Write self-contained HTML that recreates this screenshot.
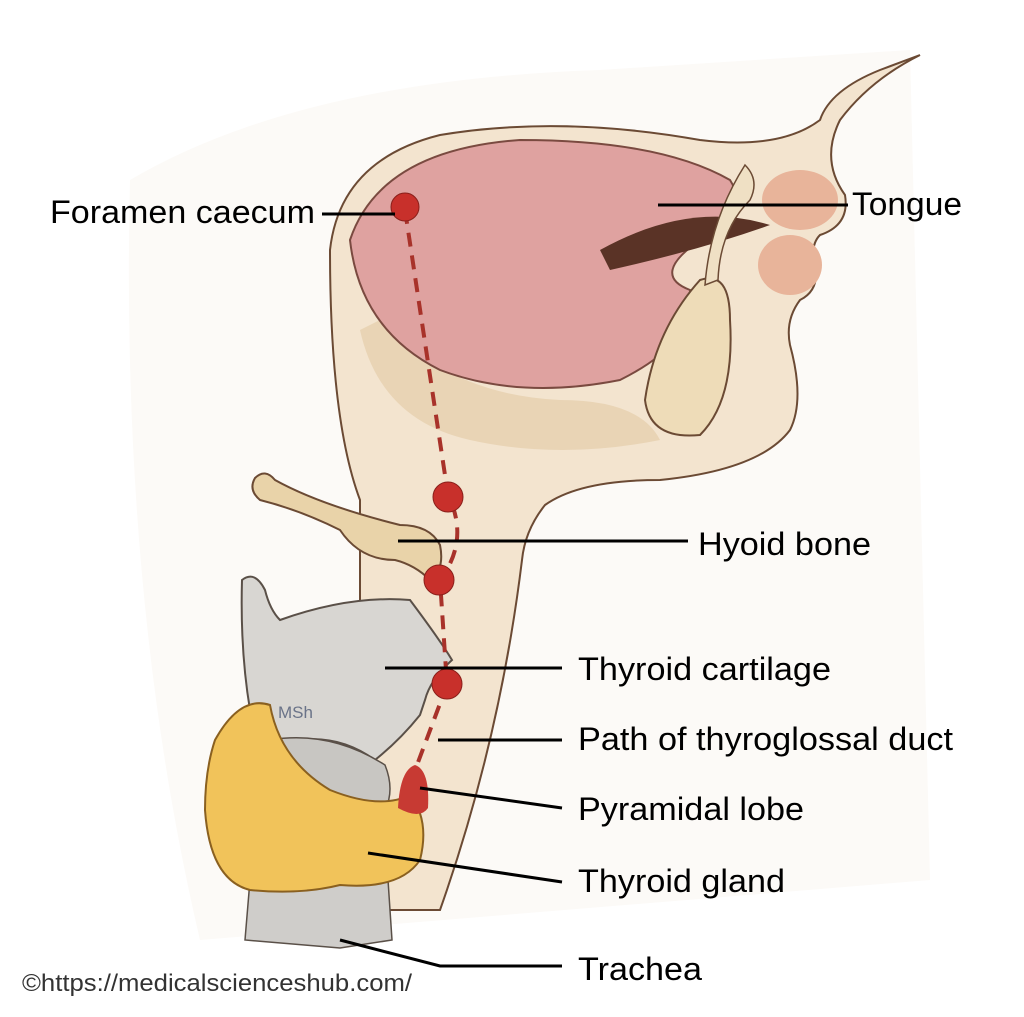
<!DOCTYPE html>
<html><head><meta charset="utf-8"><style>
html,body{margin:0;padding:0;background:#fff}
svg{display:block}
text{font-family:"Liberation Sans",sans-serif}
</style></head><body>
<svg width="1024" height="1017" viewBox="0 0 1024 1017" xmlns="http://www.w3.org/2000/svg">
<rect width="1024" height="1017" fill="#fff"/>
<path d="M130 180 Q300 80 600 70 L910 50 L930 880 L200 940 Q120 600 130 180Z" fill="#fcfaf7"/>
<!-- head/neck silhouette -->
<path d="M330 250 Q340 160 440 135 Q560 115 700 140 Q780 150 820 120 Q830 90 880 70 L920 55 Q870 80 840 120 Q820 160 845 195 Q850 225 820 235 Q810 245 815 265 Q820 290 800 300 Q785 320 790 345 Q805 400 790 430 Q760 470 660 480 Q580 480 545 505 Q525 530 522 560 Q500 740 440 910 L360 910 L360 500 Q330 420 330 250Z" fill="#f3e4cf" stroke="#6b4a34" stroke-width="2"/>
<path d="M360 330 Q380 420 470 440 Q560 460 660 440 Q640 400 560 400 Q450 395 380 320Z" fill="#e6cfae" opacity=".8"/>
<ellipse cx="800" cy="200" rx="38" ry="30" fill="#e8b49a"/>
<ellipse cx="790" cy="265" rx="32" ry="30" fill="#e8b49a"/>
<!-- tongue -->
<path d="M350 240 Q380 150 520 140 Q660 140 730 180 Q750 210 700 240 Q650 275 690 290 Q700 340 620 380 Q520 400 440 370 Q360 330 350 240Z" fill="#dfa2a0" stroke="#7a4a40" stroke-width="2"/>
<path d="M600 250 Q690 200 770 225 Q700 250 610 270Z" fill="#5a3326"/>
<path d="M700 280 Q730 270 730 320 Q735 400 700 435 Q650 440 645 400 Q655 330 700 280Z" fill="#eedcb8" stroke="#6b4a34" stroke-width="2"/>
<path d="M745 165 Q760 180 750 200 Q720 230 718 280 L705 285 Q710 220 745 165Z" fill="#efe0c4" stroke="#6b4a34" stroke-width="1.5"/>
<!-- hyoid -->
<path d="M255 478 Q265 468 275 480 Q320 505 400 525 Q430 525 440 545 Q445 570 430 580 Q415 565 395 560 Q360 560 340 530 Q300 510 260 500 Q248 490 255 478Z" fill="#e9d3a9" stroke="#6b4a34" stroke-width="2"/>
<!-- thyroid cartilage -->
<path d="M242 580 Q255 570 265 590 Q270 610 280 620 Q350 595 410 600 Q440 640 452 660 Q430 680 425 700 L420 715 Q400 740 375 760 Q340 735 300 740 Q265 745 250 710 Q240 650 242 580Z" fill="#d8d6d2" stroke="#5a5048" stroke-width="2"/>
<text x="278" y="718" font-size="17" fill="#6a7388">MSh</text>
<path d="M270 740 Q330 730 385 765 Q395 790 385 810 L290 800Z" fill="#c8c6c2" stroke="#5a5048" stroke-width="1.5"/>
<!-- trachea -->
<path d="M250 880 L245 940 L340 948 L392 940 L388 880Z" fill="#cfcdca" stroke="#5a5048" stroke-width="1.5"/>
<!-- thyroid gland -->
<path d="M215 740 Q240 695 270 705 Q280 760 330 790 Q380 810 410 795 Q430 820 420 860 Q400 890 340 885 Q300 895 250 890 Q210 880 205 810 Q205 770 215 740Z" fill="#f1c35a" stroke="#8a6020" stroke-width="2"/>
<path d="M398 808 Q400 770 415 765 Q430 770 428 808 Q420 820 398 808Z" fill="#c73a33"/>
<path d="M405 210 L448 495 Q470 540 440 580 L447 685 L417 765" fill="none" stroke="#a8322a" stroke-width="4" stroke-dasharray="14 9"/>
<g fill="#c8302b" stroke="#8a1f1a" stroke-width="1">
<circle cx="405" cy="207" r="14"/><circle cx="448" cy="497" r="15"/><circle cx="439" cy="580" r="15"/><circle cx="447" cy="684" r="15"/>
</g>
<g stroke="#000" stroke-width="3" fill="none">
<line x1="322" y1="214" x2="395" y2="214"/>
<line x1="658" y1="205" x2="848" y2="205"/>
<line x1="398" y1="541" x2="688" y2="541"/>
<line x1="385" y1="668" x2="562" y2="668"/>
<line x1="438" y1="740" x2="562" y2="740"/>
<line x1="420" y1="788" x2="562" y2="808"/>
<line x1="368" y1="853" x2="562" y2="882"/>
<polyline points="340,940 440,966 562,966"/>
</g>
<g font-size="32" fill="#000" lengthAdjust="spacingAndGlyphs">
<text x="50" y="223" textLength="265" lengthAdjust="spacingAndGlyphs">Foramen caecum</text>
<text x="852" y="215" textLength="110" lengthAdjust="spacingAndGlyphs">Tongue</text>
<text x="698" y="555" textLength="173" lengthAdjust="spacingAndGlyphs">Hyoid bone</text>
<text x="578" y="680" textLength="253" lengthAdjust="spacingAndGlyphs">Thyroid cartilage</text>
<text x="578" y="750" textLength="375" lengthAdjust="spacingAndGlyphs">Path of thyroglossal duct</text>
<text x="578" y="820" textLength="226" lengthAdjust="spacingAndGlyphs">Pyramidal lobe</text>
<text x="578" y="892" textLength="207" lengthAdjust="spacingAndGlyphs">Thyroid gland</text>
<text x="578" y="980" textLength="124" lengthAdjust="spacingAndGlyphs">Trachea</text>
</g>
<text x="22" y="991" font-size="24" fill="#333" textLength="390" lengthAdjust="spacingAndGlyphs">©https://medicalscienceshub.com/</text>
</svg>
</body></html>
